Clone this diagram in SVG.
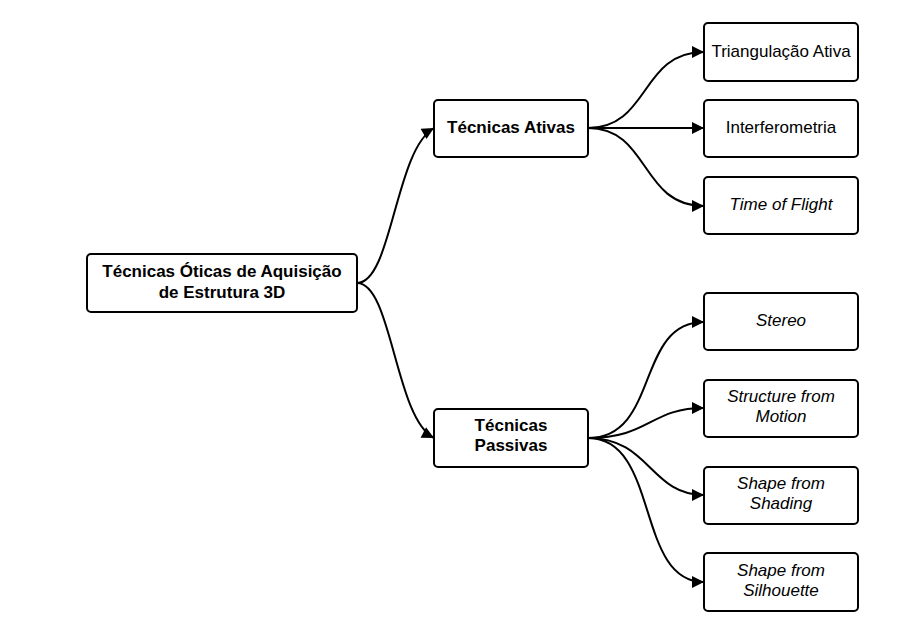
<svg xmlns="http://www.w3.org/2000/svg" width="923" height="633" viewBox="0 0 923 633">
<defs>
<style>
.box{fill:#fff;stroke:#000;stroke-width:2}
.t{font-family:"Liberation Sans",Arial,sans-serif;font-size:17px;fill:#000;text-anchor:middle}
.b{font-weight:bold}
.i{font-style:italic}
.c{fill:none;stroke:#000;stroke-width:2;marker-end:url(#arr)}
</style>
<marker id="arr" viewBox="0 0 10 10" refX="10" refY="5" markerWidth="15" markerHeight="12" markerUnits="userSpaceOnUse" orient="auto">
<path d="M0,0 L10,5 L0,10 z" fill="#000"/>
</marker>
</defs>
<rect width="923" height="633" fill="#fff"/>
<g id="connectors">
<path class="c" d="M357,283 C392,283 395,150 434,128"/>
<path class="c" d="M357,283 C392,283 395,418 434,438"/>
<path class="c" d="M588,128 C650,128 640,52 704,52"/>
<path class="c" d="M588,128 L704,128"/>
<path class="c" d="M588,128 C650,128 640,206 704,206"/>
<path class="c" d="M588,438 C660,438 635,322 704,322"/>
<path class="c" d="M588,438 C650,438 650,408 704,408"/>
<path class="c" d="M588,438 C650,438 650,495 704,495"/>
<path class="c" d="M588,438 C660,438 635,582 704,582"/>
</g>
<g id="root">
<rect class="box" x="87" y="254" width="270" height="58" rx="4"/>
<text class="t b" x="222" y="277">Técnicas Óticas de Aquisição</text>
<text class="t b" x="222" y="298">de Estrutura 3D</text>
</g>
<g id="ativas">
<rect class="box" x="434" y="100" width="154" height="57" rx="4"/>
<text class="t b" x="511" y="133">Técnicas Ativas</text>
</g>
<g id="passivas">
<rect class="box" x="434" y="409" width="154" height="58" rx="4"/>
<text class="t b" x="511" y="431">Técnicas</text>
<text class="t b" x="511" y="451">Passivas</text>
</g>
<g id="triangulacao">
<rect class="box" x="704" y="23" width="154" height="58" rx="4"/>
<text class="t" x="781" y="57">Triangulação Ativa</text>
</g>
<g id="interferometria">
<rect class="box" x="704" y="100" width="154" height="57" rx="4"/>
<text class="t" x="781" y="133">Interferometria</text>
</g>
<g id="tof">
<rect class="box" x="704" y="177" width="154" height="57" rx="4"/>
<text class="t i" x="781" y="210">Time of Flight</text>
</g>
<g id="stereo">
<rect class="box" x="704" y="293" width="154" height="57" rx="4"/>
<text class="t i" x="781" y="326">Stereo</text>
</g>
<g id="sfm">
<rect class="box" x="704" y="380" width="154" height="57" rx="4"/>
<text class="t i" x="781" y="402">Structure from</text>
<text class="t i" x="781" y="422">Motion</text>
</g>
<g id="sfs">
<rect class="box" x="704" y="467" width="154" height="57" rx="4"/>
<text class="t i" x="781" y="489">Shape from</text>
<text class="t i" x="781" y="509">Shading</text>
</g>
<g id="sfsil">
<rect class="box" x="704" y="553" width="154" height="58" rx="4"/>
<text class="t i" x="781" y="576">Shape from</text>
<text class="t i" x="781" y="596">Silhouette</text>
</g>
</svg>
